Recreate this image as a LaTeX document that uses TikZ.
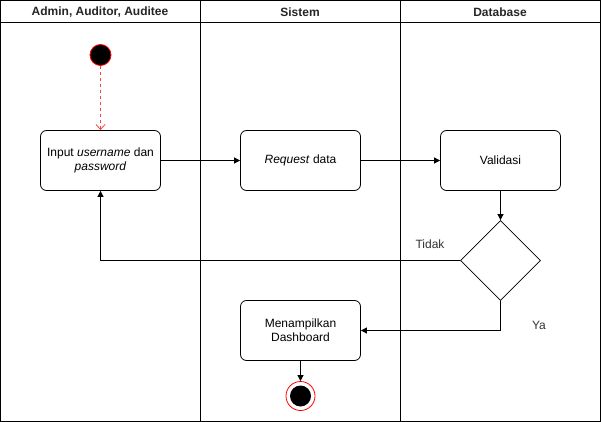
\documentclass[tikz,border=0pt]{standalone}
\usepackage{fontspec}
\setmainfont{Liberation Sans}
\usetikzlibrary{shapes.geometric,arrows.meta}
\begin{document}
\begin{tikzpicture}[x=1pt,y=-1pt,
  lane/.style={draw=black,line width=0.8pt},
  stepbox/.style={draw=black,line width=0.8pt,rounded corners=6pt,minimum width=120pt,minimum height=60pt,align=center,font=\fontsize{12}{14}\selectfont,inner sep=2pt},
  flow/.style={draw=black,line width=0.8pt,-{Triangle[length=6pt,width=6pt]}},
  lbl/.style={font=\fontsize{12}{14}\selectfont,text=black!80},
  hdr/.style={font=\bfseries\fontsize{12}{14}\selectfont,text=black!85}]
\useasboundingbox (0,0) rectangle (601,422);
\fill[white] (0,0) rectangle (601,422);
% lanes
\draw[lane] (0.5,0.5) rectangle (600.5,421.5);
\draw[lane] (0.5,22.5) -- (600.5,22.5);
\draw[lane] (200.5,0.5) -- (200.5,421.5);
\draw[lane] (400.5,0.5) -- (400.5,421.5);
\node[hdr] (h1) at (100,12) {Admin, Auditor, Auditee};
\node[hdr] (h2) at (300,12) {Sistem};
\node[hdr] (h3) at (500,12) {Database};
% nodes
\node[circle,fill=black,draw=red,line width=0.8pt,minimum size=21pt,inner sep=0pt] (start) at (100.5,55) {};
\node[stepbox] (input) at (100.5,160.5) {Input \textit{username} dan\\\textit{password}};
\node[stepbox] (req) at (300.5,160.5) {\textit{Request} data};
\node[stepbox] (val) at (500.5,160.5) {Validasi};
\node[diamond,draw=black,line width=0.8pt,minimum width=80pt,minimum height=80pt,inner sep=0pt] (dec) at (500.5,260.5) {};
\node[stepbox] (dash) at (300.5,330.5) {Menampilkan\\Dashboard};
\node[circle,draw=red,line width=0.8pt,minimum size=29pt,inner sep=0pt] (endo) at (300.5,396) {};
\node[circle,fill=black,minimum size=21pt,inner sep=0pt] (endi) at (300.5,396) {};
% connectors
\draw[draw=red!75,dashed,line width=0.8pt,-{Straight Barb[length=5pt,width=9pt]}] (start) -- (input);
\draw[flow] (input) -- (req);
\draw[flow] (req) -- (val);
\draw[flow] (val) -- (dec);
\coordinate (tk) at (100.5,260.5);
\draw[flow] (dec.west) -- (tk) -- (input.south);
\coordinate (ya) at (500.5,330.5);
\draw[flow] (dec.south) -- (ya) -- (dash.east);
\draw[flow] (dash) -- (endo);
\node[lbl] (tidak) at (430,244) {Tidak};
\node[lbl] (yalbl) at (539,325) {Ya};
\end{tikzpicture}
\end{document}
